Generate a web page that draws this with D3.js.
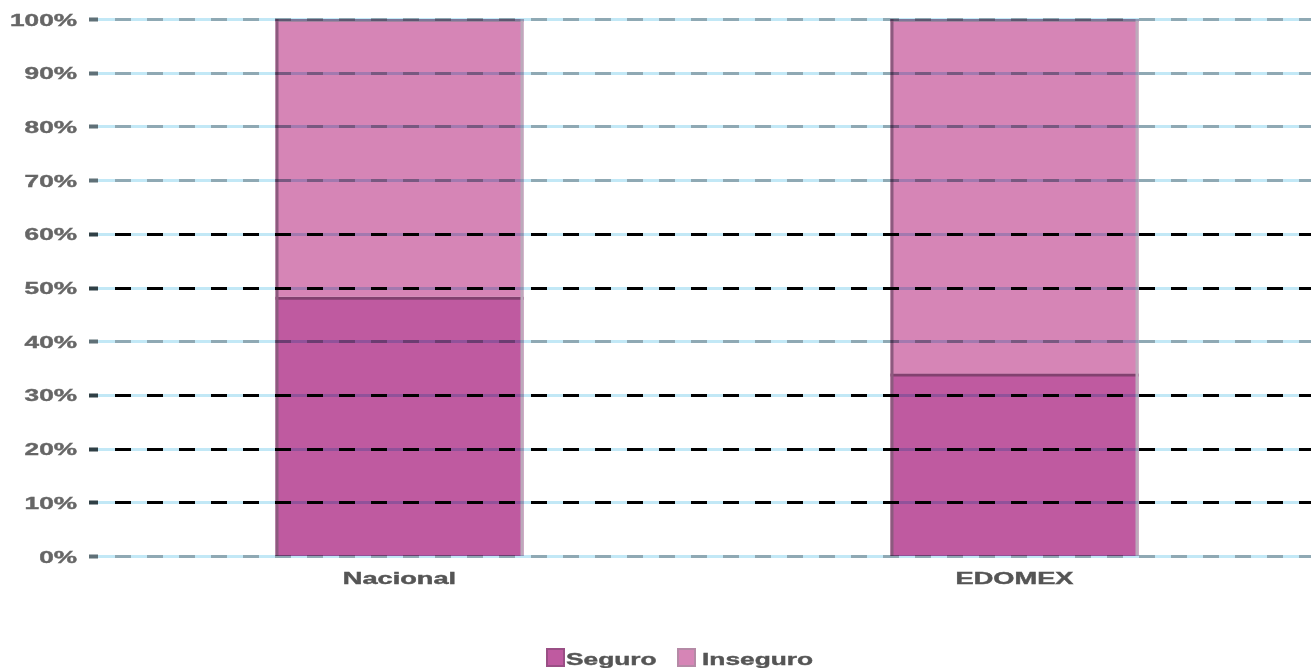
<!DOCTYPE html>
<html>
<head>
<meta charset="utf-8">
<script src="https://cdn.jsdelivr.net/npm/d3@7"></script>
<style>
  body { margin: 0; background: #fff; }
  text { font-family: "Liberation Sans", Arial, sans-serif; font-weight: bold; stroke-width: 0.4px; }
</style>
</head>
<body>
<script>
// data
const categories = ["Nacional", "EDOMEX"];
const seguro = [48.3, 34.0];
const inseguro = [51.7, 66.0];
const seriesNames = ["Seguro", "Inseguro"];
const yTicks = [0, 10, 20, 30, 40, 50, 60, 70, 80, 90, 100];
// gridlines drawn with black dashes, the others have grey dashes
const blackGrid = [10, 20, 30, 50, 60];

const width = 1311, height = 668;
const colors = { Seguro: "#bf5aa0", Inseguro: "#d685b6" };

const svg = d3.select("body").append("svg")
    .attr("width", width)
    .attr("height", height);

const x = d3.scalePoint()
    .domain(categories)
    .range([92, 1322])
    .padding(0.5);

const y = d3.scaleLinear()
    .domain([0, 100])
    .range([556, 19]);

const barWidth = 248;

// stack the two series
const rows = categories.map((c, i) => ({ cat: c, Seguro: seguro[i], Inseguro: inseguro[i] }));
const stacked = d3.stack().keys(seriesNames)(rows);

const bars = svg.append("g");
stacked.forEach(layer => {
    const g = bars.append("g");
    g.selectAll("rect")
        .data(layer)
        .enter()
        .append("rect")
        .attr("x", d => x(d.data.cat) - barWidth / 2)
        .attr("y", d => y(d[1]))
        .attr("width", barWidth)
        .attr("height", d => y(d[0]) - y(d[1]))
        .attr("fill", colors[layer.key]);
    // top edge of each segment
    g.selectAll("line")
        .data(layer)
        .enter()
        .append("line")
        .attr("x1", d => x(d.data.cat) - barWidth / 2)
        .attr("x2", d => x(d.data.cat) + barWidth / 2)
        .attr("y1", d => y(d[1]) + 1.5)
        .attr("y2", d => y(d[1]) + 1.5)
        .attr("stroke", layer.key === "Seguro" ? "#82416f" : "#a3839f")
        .attr("stroke-width", 3);
});

// side edges of the bars
bars.selectAll("line.left")
    .data(categories)
    .enter()
    .append("line")
    .attr("class", "left")
    .attr("x1", d => x(d) - barWidth / 2 + 1.5)
    .attr("x2", d => x(d) - barWidth / 2 + 1.5)
    .attr("y1", y(100))
    .attr("y2", y(0))
    .attr("stroke", "#8c5a7e")
    .attr("stroke-width", 3);
bars.selectAll("line.right")
    .data(categories)
    .enter()
    .append("line")
    .attr("class", "right")
    .attr("x1", d => x(d) + barWidth / 2 - 1.5)
    .attr("x2", d => x(d) + barWidth / 2 - 1.5)
    .attr("y1", y(100))
    .attr("y2", y(0))
    .attr("stroke", "#bcaabb")
    .attr("stroke-width", 3);

// gridlines on top, multiplied over the bars
const grid = svg.append("g").style("mix-blend-mode", "multiply");
yTicks.forEach(t => {
    const gy = Math.round(y(t)) + 0.5;
    grid.append("line")
        .attr("x1", 98).attr("x2", 1311)
        .attr("y1", gy).attr("y2", gy)
        .attr("stroke", "#c2e8f6")
        .attr("stroke-width", 3);
    grid.append("line")
        .attr("x1", 99).attr("x2", 1311)
        .attr("y1", gy).attr("y2", gy)
        .attr("stroke", blackGrid.includes(t) ? "#000" : "#8fa9b4")
        .attr("stroke-width", 3)
        .attr("stroke-dasharray", "16,16")
        .attr("stroke-dashoffset", -16);
    // little tick square at the left
    grid.append("rect")
        .attr("x", 89).attr("y", gy - 2)
        .attr("width", 9).attr("height", 4)
        .attr("fill", blackGrid.includes(t) ? "#2f3f45" : "#5f7077");
});

// y tick labels
svg.append("g").selectAll("text")
    .data(yTicks)
    .enter()
    .append("text")
    .attr("transform", d => `translate(77,${y(d) + 6.5}) scale(1.54,1)`)
    .attr("text-anchor", "end")
    .attr("font-size", 17)
    .attr("fill", "#666")
    .attr("stroke", "#666")
    .text(d => d + "%");

// x category labels
svg.append("g").selectAll("text")
    .data(categories)
    .enter()
    .append("text")
    .attr("transform", d => `translate(${x(d)},584) scale(1.7,1)`)
    .attr("text-anchor", "middle")
    .attr("font-size", 16)
    .attr("fill", "#555")
    .attr("stroke", "#555")
    .text(d => d);

// legend
const legendX = [546, 677];
const legendTextGap = [20, 25];
const legend = svg.append("g");
seriesNames.forEach((name, i) => {
    legend.append("rect")
        .attr("x", legendX[i] + 1).attr("y", 649)
        .attr("width", 17).attr("height", 17)
        .attr("fill", colors[name])
        .attr("stroke", name === "Seguro" ? "#9a4f85" : "#b58aa6")
        .attr("stroke-width", 2);
    legend.append("text")
        .attr("transform", `translate(${legendX[i] + legendTextGap[i]},665) scale(1.55,1)`)
        .attr("font-size", 17)
        .attr("fill", "#555")
        .attr("stroke", "#555")
        .text(name);
});
</script>
</body>
</html>
